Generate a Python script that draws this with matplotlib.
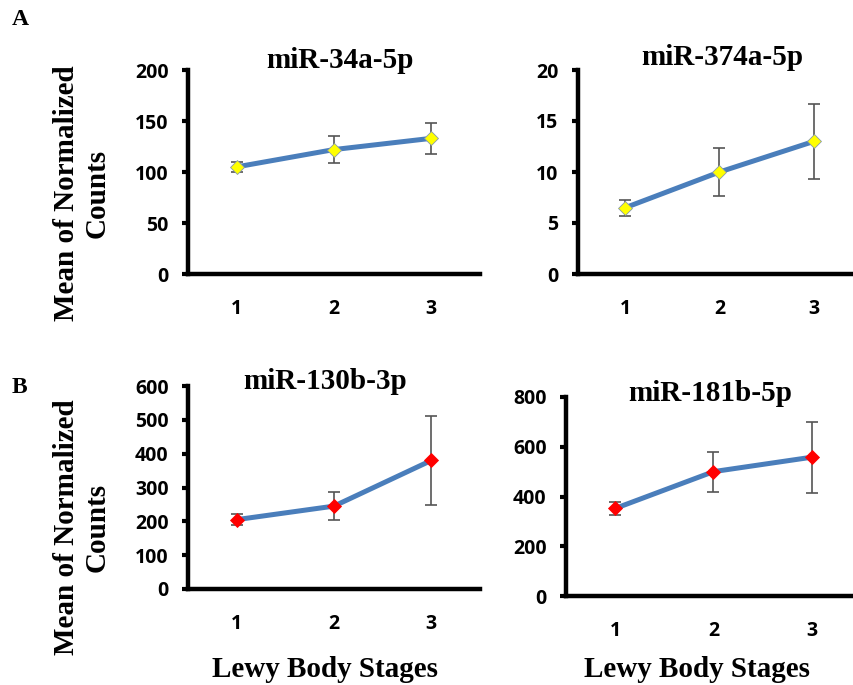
import matplotlib
matplotlib.use("Agg")
import matplotlib.pyplot as plt

# ---- data ----
stages = [1, 2, 3]
stage_labels = ["1", "2", "3"]

mir34_mean = [105, 122, 133]
mir34_err = [5, 13, 15]

mir374_mean = [6.5, 10.0, 13.0]
mir374_err = [0.8, 2.4, 3.7]

mir130_mean = [205, 245, 380]
mir130_err = [17, 42, 132]

mir181_mean = [352, 500, 558]
mir181_err = [27, 80, 142]

titles = ["miR-34a-5p", "miR-374a-5p", "miR-130b-3p", "miR-181b-5p"]
yticks_list = [[0, 50, 100, 150, 200], [0, 5, 10, 15, 20],
               [0, 100, 200, 300, 400, 500, 600], [0, 200, 400, 600, 800]]
ylabel_text = "Mean of Normalized\nCounts"
xlabel_text = "Lewy Body Stages"

# ---- style ----
W, H = 854, 685
DPI = 100
fig = plt.figure(figsize=(W / DPI, H / DPI), dpi=DPI)
fig.patch.set_facecolor("white")

SERIF = ["Liberation Serif", "DejaVu Serif"]
TICKFONT = ["Open Sans", "DejaVu Sans"]
LINE_COLOR = "#4a7ebb"
ERR_COLOR = "#555555"


def px_axes(x0, x1, ytop, ybot):
    return fig.add_axes([x0 / W, 1 - ybot / H, (x1 - x0) / W, (ybot - ytop) / H])


boxes = [(188, 480, 70, 274), (578, 861, 70, 274),
         (188, 480, 386, 589), (566, 861, 397, 596)]
means = [mir34_mean, mir374_mean, mir130_mean, mir181_mean]
errs = [mir34_err, mir374_err, mir130_err, mir181_err]
mcolors = ["#ffff00", "#ffff00", "#ff0000", "#ff0000"]
medges = ["#8899aa", "#8899aa", "#ff0000", "#ff0000"]
title_xfrac = [0.52, 0.51, 0.47, 0.49]
title_offsets = [2, 5, -3, -4]

axes = []
for i, (box, m, e) in enumerate(zip(boxes, means, errs)):
    ax = px_axes(*box)
    axes.append(ax)
    ax.plot(stages, m, color=LINE_COLOR, lw=3.6, zorder=2, solid_capstyle="round")
    ax.errorbar(stages, m, yerr=e, fmt="none", ecolor=ERR_COLOR, elinewidth=1.2,
                capsize=4, capthick=1.2, zorder=3)
    ax.plot(stages, m, linestyle="none", marker="D", markersize=7,
            markerfacecolor=mcolors[i], markeredgecolor=medges[i],
            markeredgewidth=0.6, zorder=4)
    yt = yticks_list[i]
    ax.set_ylim(yt[0], yt[-1])
    ax.set_yticks(yt)
    ax.set_xlim(0.5, 3.5)
    ax.set_xticks(stages)
    ax.set_xticklabels(stage_labels)
    for s in ["top", "right"]:
        ax.spines[s].set_visible(False)
    for s in ["left", "bottom"]:
        ax.spines[s].set_linewidth(3.2)
        ax.spines[s].set_color("black")
    ax.tick_params(axis="y", direction="out", length=4, width=3, pad=10,
                   colors="black")
    ax.tick_params(axis="x", length=0, pad=18)
    for lbl in ax.get_xticklabels() + ax.get_yticklabels():
        lbl.set_family(TICKFONT)
        lbl.set_weight("bold")
        lbl.set_fontsize(14)
    ax.set_facecolor("none")
    bb = ax.get_position()
    fig.text(bb.x0 + title_xfrac[i] * bb.width, bb.y1 + title_offsets[i] / H,
             titles[i], ha="center", va="baseline", family=SERIF,
             weight="bold", fontsize=21)

# y labels
for yc in [193, 527]:
    fig.text(82 / W, 1 - yc / H, ylabel_text, rotation=90, ha="center",
             va="center", multialignment="center", family=SERIF,
             weight="bold", fontsize=21, linespacing=1.15)

# x labels
for xc in [325, 697]:
    fig.text(xc / W, 1 - 677 / H, xlabel_text, ha="center", va="baseline",
             family=SERIF, weight="bold", fontsize=21)

# panel letters
fig.text(12 / W, 1 - 25 / H, "A", ha="left", va="baseline", family=SERIF,
         weight="bold", fontsize=17)
fig.text(12 / W, 1 - 393 / H, "B", ha="left", va="baseline", family=SERIF,
         weight="bold", fontsize=17)

fig.savefig("out.png", dpi=DPI)
